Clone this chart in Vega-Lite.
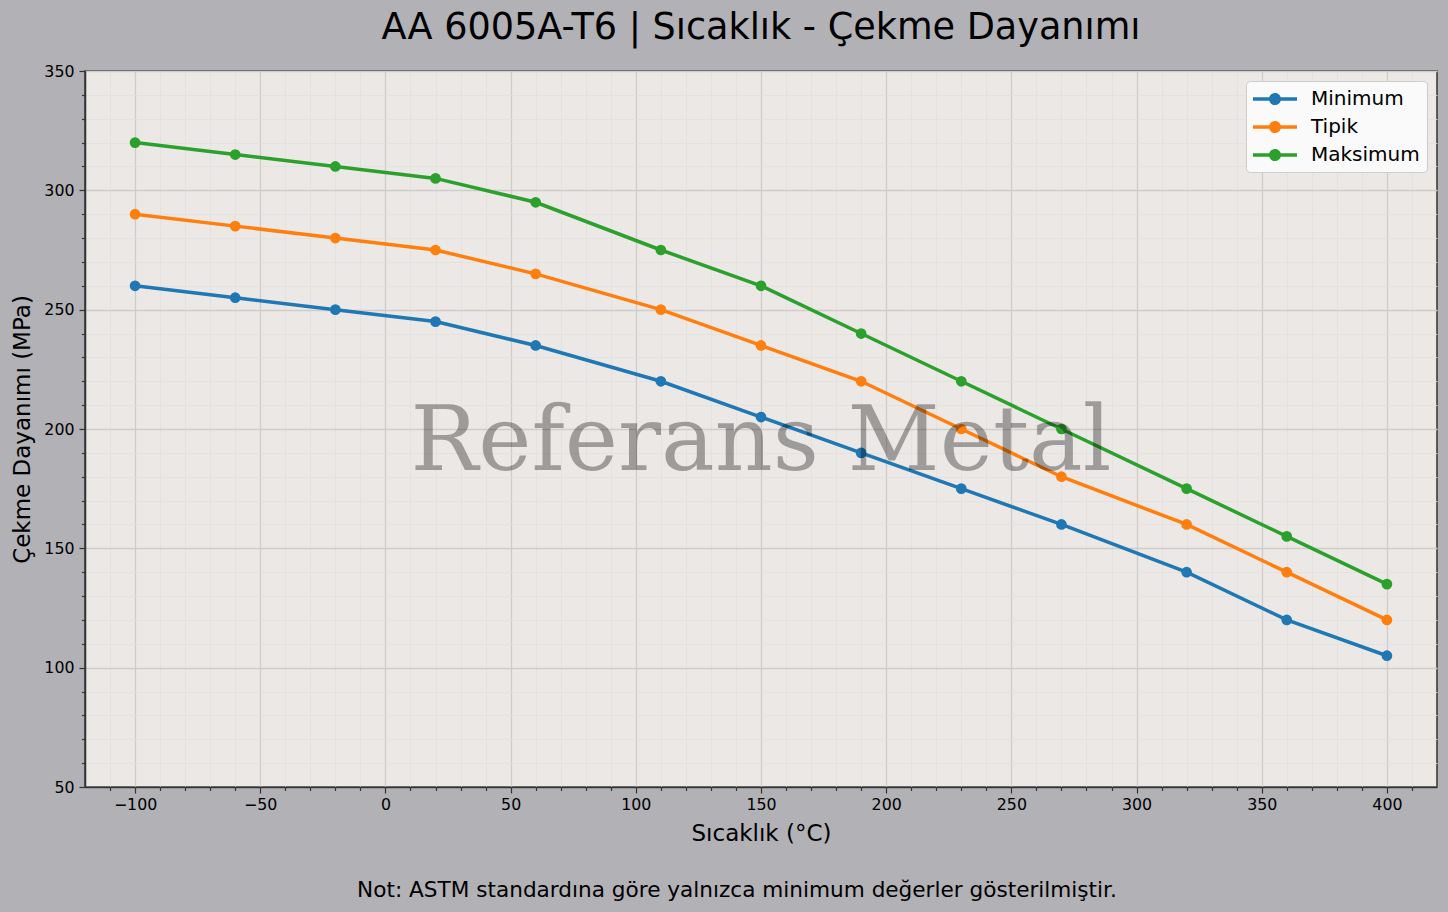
{
  "$schema": "https://vega.github.io/schema/vega-lite/v6.json",
  "width": 1352,
  "height": 716,
  "autosize": {"type": "none"},
  "padding": {"left": 85, "top": 71, "right": 11, "bottom": 125},
  "background": "#b1b1b6",
  "title": {
    "text": "AA 6005A-T6 | Sıcaklık - Çekme Dayanımı",
    "font": "DejaVu Sans",
    "fontSize": 36.6,
    "fontWeight": "normal",
    "color": "#000000",
    "anchor": "middle",
    "baseline": "alphabetic",
    "offset": -13
  },
  "config": {
    "font": "DejaVu Sans",
    "view": {"fill": "#ebe8e6", "stroke": "#333333", "strokeWidth": 1.5},
    "axis": {
      "labelFont": "DejaVu Sans",
      "labelFontSize": 15.8,
      "labelColor": "#000000",
      "titleFont": "DejaVu Sans",
      "titleFontSize": 23,
      "titleFontWeight": "normal",
      "titleColor": "#000000",
      "domainColor": "#333333",
      "domainWidth": 1.5,
      "tickColor": "#333333",
      "tickWidth": 1.2,
      "labelOverlap": false,
      "gridColor": {"condition": {"test": "datum.value % 50 === 0", "value": "#cfccca"}, "value": "#e2dfdd"},
      "gridWidth": {"condition": {"test": "datum.value % 50 === 0", "value": 1.3}, "value": 0.8},
      "tickSize": {"condition": {"test": "datum.value % 50 === 0", "value": 6}, "value": 3.5},
      "labelExpr": "datum.value % 50 === 0 ? datum.label : ''"
    }
  },
  "resolve": {"axis": {"x": "independent", "y": "independent"}},
  "datasets": {
    "seriler": [
      {"t": -100, "seri": "Minimum", "v": 260},
      {"t": -60, "seri": "Minimum", "v": 255},
      {"t": -20, "seri": "Minimum", "v": 250},
      {"t": 20, "seri": "Minimum", "v": 245},
      {"t": 60, "seri": "Minimum", "v": 235},
      {"t": 110, "seri": "Minimum", "v": 220},
      {"t": 150, "seri": "Minimum", "v": 205},
      {"t": 190, "seri": "Minimum", "v": 190},
      {"t": 230, "seri": "Minimum", "v": 175},
      {"t": 270, "seri": "Minimum", "v": 160},
      {"t": 320, "seri": "Minimum", "v": 140},
      {"t": 360, "seri": "Minimum", "v": 120},
      {"t": 400, "seri": "Minimum", "v": 105},
      {"t": -100, "seri": "Tipik", "v": 290},
      {"t": -60, "seri": "Tipik", "v": 285},
      {"t": -20, "seri": "Tipik", "v": 280},
      {"t": 20, "seri": "Tipik", "v": 275},
      {"t": 60, "seri": "Tipik", "v": 265},
      {"t": 110, "seri": "Tipik", "v": 250},
      {"t": 150, "seri": "Tipik", "v": 235},
      {"t": 190, "seri": "Tipik", "v": 220},
      {"t": 230, "seri": "Tipik", "v": 200},
      {"t": 270, "seri": "Tipik", "v": 180},
      {"t": 320, "seri": "Tipik", "v": 160},
      {"t": 360, "seri": "Tipik", "v": 140},
      {"t": 400, "seri": "Tipik", "v": 120},
      {"t": -100, "seri": "Maksimum", "v": 320},
      {"t": -60, "seri": "Maksimum", "v": 315},
      {"t": -20, "seri": "Maksimum", "v": 310},
      {"t": 20, "seri": "Maksimum", "v": 305},
      {"t": 60, "seri": "Maksimum", "v": 295},
      {"t": 110, "seri": "Maksimum", "v": 275},
      {"t": 150, "seri": "Maksimum", "v": 260},
      {"t": 190, "seri": "Maksimum", "v": 240},
      {"t": 230, "seri": "Maksimum", "v": 220},
      {"t": 270, "seri": "Maksimum", "v": 200},
      {"t": 320, "seri": "Maksimum", "v": 175},
      {"t": 360, "seri": "Maksimum", "v": 155},
      {"t": 400, "seri": "Maksimum", "v": 135}
    ],
    "filigran": [{"wm": "Referans Metal"}],
    "dipnot": [{"note": "Not: ASTM standardına göre yalnızca minimum değerler gösterilmiştir."}]
  },
  "layer": [
    {
      "data": {"name": "seriler"},
      "encoding": {
        "x": {
          "field": "t",
          "type": "quantitative",
          "title": "Sıcaklık (°C)",
          "scale": {"domain": [-120, 420], "nice": false, "zero": false},
          "axis": {
            "values": [-110, -100, -90, -80, -70, -60, -50, -40, -30, -20, -10, 0, 10, 20, 30, 40, 50, 60, 70, 80, 90, 100, 110, 120, 130, 140, 150, 160, 170, 180, 190, 200, 210, 220, 230, 240, 250, 260, 270, 280, 290, 300, 310, 320, 330, 340, 350, 360, 370, 380, 390, 400, 410],
            "labelPadding": 4,
            "titlePadding": 11,
            "labelFlush": false
          }
        },
        "y": {
          "field": "v",
          "type": "quantitative",
          "title": "Çekme Dayanımı (MPa)",
          "scale": {"domain": [50, 350], "nice": false, "zero": false},
          "axis": {
            "values": [50, 60, 70, 80, 90, 100, 110, 120, 130, 140, 150, 160, 170, 180, 190, 200, 210, 220, 230, 240, 250, 260, 270, 280, 290, 300, 310, 320, 330, 340, 350],
            "labelPadding": 5,
            "titlePadding": 9
          }
        },
        "color": {
          "field": "seri",
          "type": "nominal",
          "sort": ["Minimum", "Tipik", "Maksimum"],
          "scale": {"domain": ["Minimum", "Tipik", "Maksimum"], "range": ["#1f77b4", "#ff7f0e", "#2ca02c"]},
          "legend": {
            "title": null,
            "orient": "top-right",
            "offset": 10,
            "padding": 7,
            "fillColor": "#fbfafa",
            "strokeColor": "#cccccc",
            "cornerRadius": 4,
            "labelFont": "DejaVu Sans",
            "labelFontSize": 20,
            "labelColor": "#000000",
            "labelOffset": 36,
            "rowPadding": 7,
            "symbolType": "M-1,-0.15L3,-0.15L3,0.15L-1,0.15Z M1.55,0A0.55,0.55 0 1 1 0.45,0A0.55,0.55 0 1 1 1.55,0Z",
            "symbolSize": 484,
            "symbolStrokeWidth": 0,
            "encode": {
              "symbols": {"update": {"fill": {"scale": "color", "field": "value"}, "fillOpacity": {"value": 1}}}
            }
          }
        }
      },
      "layer": [
        {"mark": {"type": "line", "strokeWidth": 3.5}},
        {"mark": {"type": "point", "filled": true, "size": 115, "opacity": 1}}
      ]
    },
    {
      "data": {"name": "filigran"},
      "mark": {
        "type": "text",
        "font": "DejaVu Serif",
        "fontSize": 90,
        "fill": "#000000",
        "opacity": 0.32,
        "align": "center",
        "baseline": "alphabetic"
      },
      "encoding": {
        "x": {"datum": 150, "type": "quantitative", "axis": null},
        "y": {"datum": 183, "type": "quantitative", "axis": null},
        "text": {"field": "wm", "type": "nominal"}
      }
    },
    {
      "data": {"name": "dipnot"},
      "mark": {
        "type": "text",
        "font": "DejaVu Sans",
        "fontSize": 21.6,
        "fill": "#000000",
        "align": "center",
        "baseline": "alphabetic",
        "clip": false
      },
      "encoding": {
        "x": {"datum": 140.4, "type": "quantitative", "axis": null},
        "y": {"datum": 4, "type": "quantitative", "axis": null},
        "text": {"field": "note", "type": "nominal"}
      }
    }
  ]
}
